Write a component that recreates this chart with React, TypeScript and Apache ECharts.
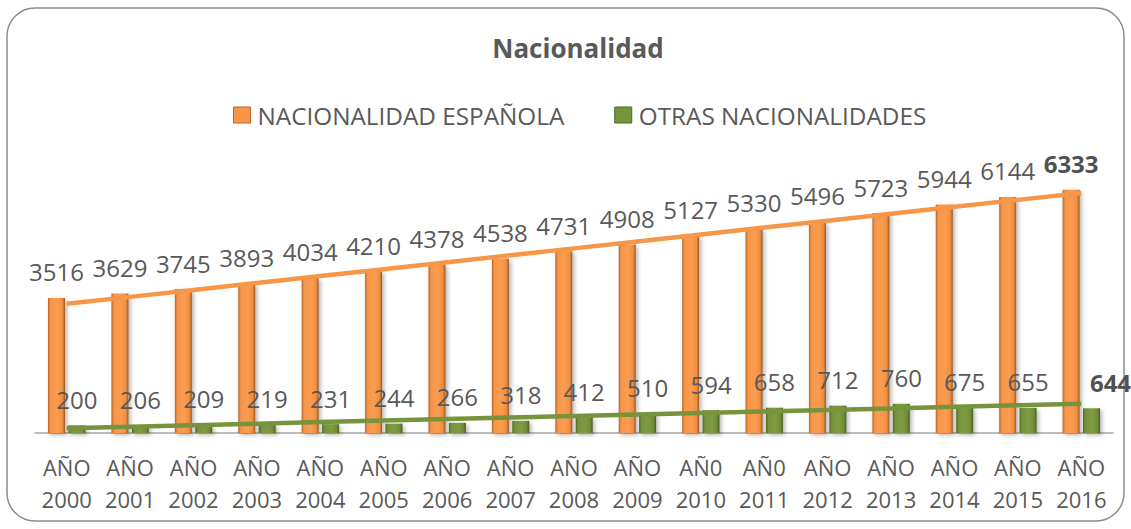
import React, { useEffect, useRef } from "react";
import * as echarts from "echarts";

const categories = [
  "AÑO\n2000", "AÑO\n2001", "AÑO\n2002", "AÑO\n2003", "AÑO\n2004", "AÑO\n2005",
  "AÑO\n2006", "AÑO\n2007", "AÑO\n2008", "AÑO\n2009", "AÑ0\n2010", "AÑ0\n2011",
  "AÑO\n2012", "AÑO\n2013", "AÑO\n2014", "AÑO\n2015", "AÑO\n2016",
];
const espanola = [3516, 3629, 3745, 3893, 4034, 4210, 4378, 4538, 4731, 4908, 5127, 5330, 5496, 5723, 5944, 6144, 6333];
const otras = [200, 206, 209, 219, 231, 244, 266, 318, 412, 510, 594, 658, 712, 760, 675, 655, 644];
const seriesNames = ["NACIONALIDAD ESPAÑOLA", "OTRAS NACIONALIDADES"];
const titleText = "Nacionalidad";

function linearTrend(values: number[]): number[] {
  const n = values.length;
  const mx = (n - 1) / 2;
  const my = values.reduce((a, b) => a + b, 0) / n;
  let sxy = 0;
  let sxx = 0;
  values.forEach((v, i) => {
    sxy += (i - mx) * (v - my);
    sxx += (i - mx) * (i - mx);
  });
  const b = sxy / sxx;
  const a = my - b * mx;
  return values.map((_, i) => a + b * i);
}

const FONT = "'Open Sans', 'Noto Sans', sans-serif";
const TEXT = "#595959";

export default function App() {
  const ref = useRef<HTMLDivElement>(null);
  useEffect(() => {
    if (!ref.current) return;
    const chart = echarts.init(ref.current, null, { renderer: "svg" });
    const last = espanola.length - 1;
    const orangeGrad = new echarts.graphic.LinearGradient(0, 0, 1, 0, [
      { offset: 0, color: "#b8652a" },
      { offset: 0.15, color: "#f7964a" },
      { offset: 0.55, color: "#fb9c50" },
      { offset: 0.85, color: "#ee8f40" },
      { offset: 1, color: "#9c5420" },
    ]);
    const greenGrad = new echarts.graphic.LinearGradient(0, 0, 1, 0, [
      { offset: 0, color: "#4f6a22" },
      { offset: 0.15, color: "#77933c" },
      { offset: 0.55, color: "#7e9b42" },
      { offset: 0.85, color: "#708c36" },
      { offset: 1, color: "#465f1e" },
    ]);
    const option: any = {
      animation: false,
      textStyle: { fontFamily: FONT },
      title: {
        text: titleText,
        left: 573,
        top: 30,
        textAlign: "center",
        textStyle: { fontFamily: FONT, fontSize: 26, fontWeight: "bold", color: TEXT },
      },
      legend: {
        left: 228,
        top: 98,
        itemWidth: 17,
        itemHeight: 16,
        itemGap: 50,
        icon: "rect",
        textStyle: { fontFamily: FONT, fontSize: 24.3, color: TEXT, padding: [0, 0, 0, 2] },
        data: [
          { name: seriesNames[0], itemStyle: { color: "#f79646", borderColor: "#b8652a", borderWidth: 1 } },
          { name: seriesNames[1], itemStyle: { color: "#77933c", borderColor: "#4f6a22", borderWidth: 1 } },
        ],
      },
      graphic: [
        {
          type: "rect",
          shape: { x: 7, y: 8, width: 1117, height: 513, r: 28 },
          style: { fill: "none", stroke: "#8c8c8c", lineWidth: 1.5 },
          silent: true,
        },
      ],
      grid: { left: 35, right: 18, top: 164, bottom: 96, containLabel: false },
      xAxis: {
        type: "category",
        data: categories,
        axisLine: { show: true, lineStyle: { color: "#a6a6a6", width: 1.5 } },
        axisTick: { show: false },
        axisLabel: {
          interval: 0,
          margin: 18,
          fontFamily: FONT,
          fontSize: 22,
          lineHeight: 32,
          color: TEXT,
        },
      },
      yAxis: {
        type: "value",
        min: 0,
        max: 7000,
        show: false,
        splitLine: { show: false },
      },
      series: [
        {
          name: seriesNames[0],
          type: "bar",
          barWidth: 17,
          barGap: "20%",
          itemStyle: {
            color: orangeGrad,
            shadowBlur: 4,
            shadowColor: "rgba(0,0,0,0.3)",
            shadowOffsetX: 2,
            shadowOffsetY: 2,
          },
          label: {
            show: true,
            position: "top",
            distance: 14,
            fontFamily: FONT,
            fontSize: 24,
            color: TEXT,
          },
          data: espanola.map((v, i) =>
            i === last ? { value: v, label: { fontWeight: "bold", color: "#505050" } } : v
          ),
          z: 2,
        },
        {
          name: seriesNames[1],
          type: "bar",
          barWidth: 17,
          barGap: "20%",
          itemStyle: {
            color: greenGrad,
            shadowBlur: 4,
            shadowColor: "rgba(0,0,0,0.3)",
            shadowOffsetX: 2,
            shadowOffsetY: 2,
          },
          label: {
            show: true,
            position: "top",
            distance: 14,
            fontFamily: FONT,
            fontSize: 24,
            color: TEXT,
          },
          data: otras.map((v, i) =>
            i === last
              ? { value: v, label: { fontWeight: "bold", color: "#505050", offset: [19, 0] } }
              : v
          ),
          z: 2,
        },
        {
          name: "trend-es",
          type: "line",
          data: linearTrend(espanola),
          showSymbol: false,
          symbol: "none",
          lineStyle: { color: "#f79646", width: 4.5 },
          itemStyle: { color: "#f79646" },
          silent: true,
          z: 5,
        },
        {
          name: "trend-ot",
          type: "line",
          data: linearTrend(otras),
          showSymbol: false,
          symbol: "none",
          lineStyle: { color: "#77933c", width: 4.5 },
          itemStyle: { color: "#77933c" },
          silent: true,
          z: 5,
        },
      ],
    };
    chart.setOption(option);
    return () => chart.dispose();
  }, []);
  return (
    <div
      ref={ref}
      style={{ position: "fixed", left: 0, top: 0, width: 1131, height: 529, background: "#fff" }}
    />
  );
}
